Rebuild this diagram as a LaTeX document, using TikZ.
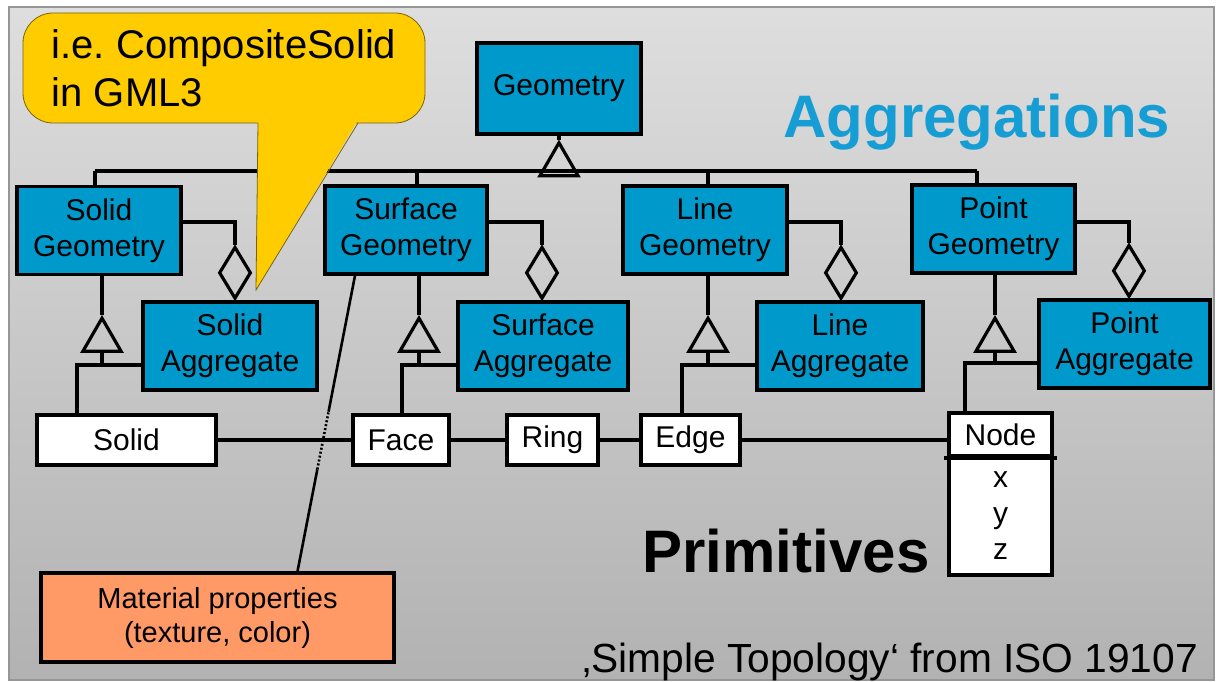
\documentclass[tikz,border=0pt]{standalone}
\usepackage{fontspec}
\setmainfont{Liberation Sans}
\usetikzlibrary{positioning,shapes.geometric}
\definecolor{boxblue}{RGB}{0,153,204}
\definecolor{titleblue}{RGB}{22,158,212}
\definecolor{noteyellow}{RGB}{255,204,0}
\definecolor{noteedge}{RGB}{120,100,20}
\definecolor{matorange}{RGB}{255,153,102}
\definecolor{bgtop}{RGB}{222,222,222}
\definecolor{bgbottom}{RGB}{178,178,178}
\definecolor{framegray}{RGB}{150,150,150}

\begin{document}
\begin{tikzpicture}[x=1pt,y=-1pt,line width=3.2pt,
    boxfont/.style={font=\fontsize{30}{36}\selectfont},
    cls/.style={boxfont,draw,fill=boxblue,inner sep=0pt,align=center,minimum width=164,minimum height=88},
    aggbox/.style={cls,minimum width=172},
    prim/.style={boxfont,draw,fill=white,inner sep=0pt,align=center,minimum height=50},
    gen/.style={draw,regular polygon,regular polygon sides=3,minimum size=44,inner sep=0pt,anchor=corner 1},
    whole/.style={draw,diamond,minimum width=32,minimum height=52,inner sep=0pt,anchor=south}]
\useasboundingbox (0,0) rectangle (1216,682);
\fill[white] (0,0) rectangle (1216,682);
\shade[top color=bgtop,bottom color=bgbottom,draw=framegray,line width=2.5pt] (9,7) rectangle (1214,680);

\node[cls,minimum height=91] (geo) at (559,88.5) {Geometry};
\node[cls] (solgeo) at (99,230.5) {Solid\\Geometry};
\node[cls,minimum width=162] (surfgeo) at (406,230) {Surface\\Geometry};
\node[cls] (linegeo) at (705,230) {Line\\Geometry};
\node[cls,minimum width=163] (pointgeo) at (993.5,229) {Point\\Geometry};

\node[aggbox,minimum width=174] (solagg) at (230,346) {Solid\\Aggregate};
\node[aggbox,minimum width=170] (surfagg) at (543,346) {Surface\\Aggregate};
\node[aggbox,minimum width=166] (lineagg) at (840,346) {Line\\Aggregate};
\node[aggbox,minimum width=171] (pointagg) at (1124.5,344) {Point\\Aggregate};

\node[prim,minimum width=179] (solid) at (126.5,440) {Solid};
\node[prim,minimum width=96] (face) at (401,440) {Face};
\node[prim,minimum width=91] (ring) at (552.5,440) {Ring};
\node[prim,minimum width=99] (edge) at (690.5,440) {Edge};
\node[prim,minimum width=103,minimum height=43] (nodehead) at (1000.5,434.5) {\raisebox{-4pt}{Node}};
\node[prim,minimum width=103,minimum height=119] (nodebody) at (1000.5,515.5) {x\\y\\z};
\draw[line width=4pt] ([xshift=-3]nodehead.south west) -- ([xshift=3]nodehead.south east);

\node[draw,fill=matorange,inner sep=0pt,align=center,minimum width=353,minimum height=89,
    font=\fontsize{29}{34}\selectfont] (mat) at (217.5,617.5) {Material properties\\(texture, color)};

\node[gen] (tgeo) at ([yshift=-4]geo.south) {};
\draw (geo.south) -- (tgeo.corner 1);
\coordinate (barL) at (95,171);
\coordinate (barR) at (977,171);
\draw (barL) -- (barR);
\foreach \x/\g in {95/solgeo,417/surfgeo,708/linegeo,977/pointgeo}
    \draw (\x,171) -- (\x,171 |- \g.north);

\foreach \tx/\hy/\px/\g/\a/\p in {102/365/77/solgeo/solagg/solid,419/365/402/surfgeo/surfagg/face,
        708/365/682/linegeo/lineagg/edge,995/363/965/pointgeo/pointagg/nodehead}{
    \node[gen] (t\g) at (\tx,315) {};
    \draw (t\g.corner 1 |- \g.south) -- (t\g.corner 1);
    \draw (t\g.side 2) -- (\tx,\hy);
    \draw (\a.west |- 0,\hy) -- (\px,\hy) -- (\px,\hy |- \p.north);
}

\foreach \dx/\g/\a in {235/solgeo/solagg,542/surfgeo/surfagg,841/linegeo/lineagg,1129/pointgeo/pointagg}{
    \node[whole] (d\g) at (\dx,0 |- \a.north) {};
    \draw (\g.east |- 0,222) -- (\dx,222) -- (d\g.north);
}

\draw (solid) -- (face);
\draw (face) -- (ring);
\draw (ring) -- (edge);
\draw (edge.east) -- (edge.east -| nodehead.west);

\coordinate (mbot) at ([xshift=80]mat.north);
\coordinate (mtop) at ([xshift=-51]surfgeo.south);
\path (mbot) -- (mtop) coordinate[pos=0.345] (m1) coordinate[pos=0.54] (m2);
\draw[line width=2.6pt] (mbot) -- (m1);
\draw[line width=2.6pt,dash pattern=on 2pt off 2pt] (m1) -- (m2);
\draw[line width=2.6pt] (m2) -- (mtop);

\node[draw=noteedge,fill=noteyellow,line width=0.8pt,rounded corners=30,minimum width=402,minimum height=110,
    align=left,inner sep=0pt,font=\fontsize{40}{48}\selectfont] (note) at (224,68) {i.e.\ CompositeSolid\\in GML3};
\fill[noteyellow] (258,120) -- (256,290) -- (358,120) -- cycle;
\draw[noteedge,line width=0.8pt] (258,123) -- (256,290) -- (358,123);

\node[anchor=base west,inner sep=0pt,text=titleblue,font=\fontsize{60}{60}\selectfont\bfseries] (aggtitle) at (782,138) {Aggregations};
\node[anchor=base west,inner sep=0pt,font=\fontsize{60}{60}\selectfont\bfseries] (primtitle) at (641,572) {Primitives};
\node[anchor=base west,inner sep=0pt,font=\fontsize{40.7}{40}\selectfont] (source) at (581,672) {‚Simple Topology‘ from ISO 19107};
\end{tikzpicture}
\end{document}
